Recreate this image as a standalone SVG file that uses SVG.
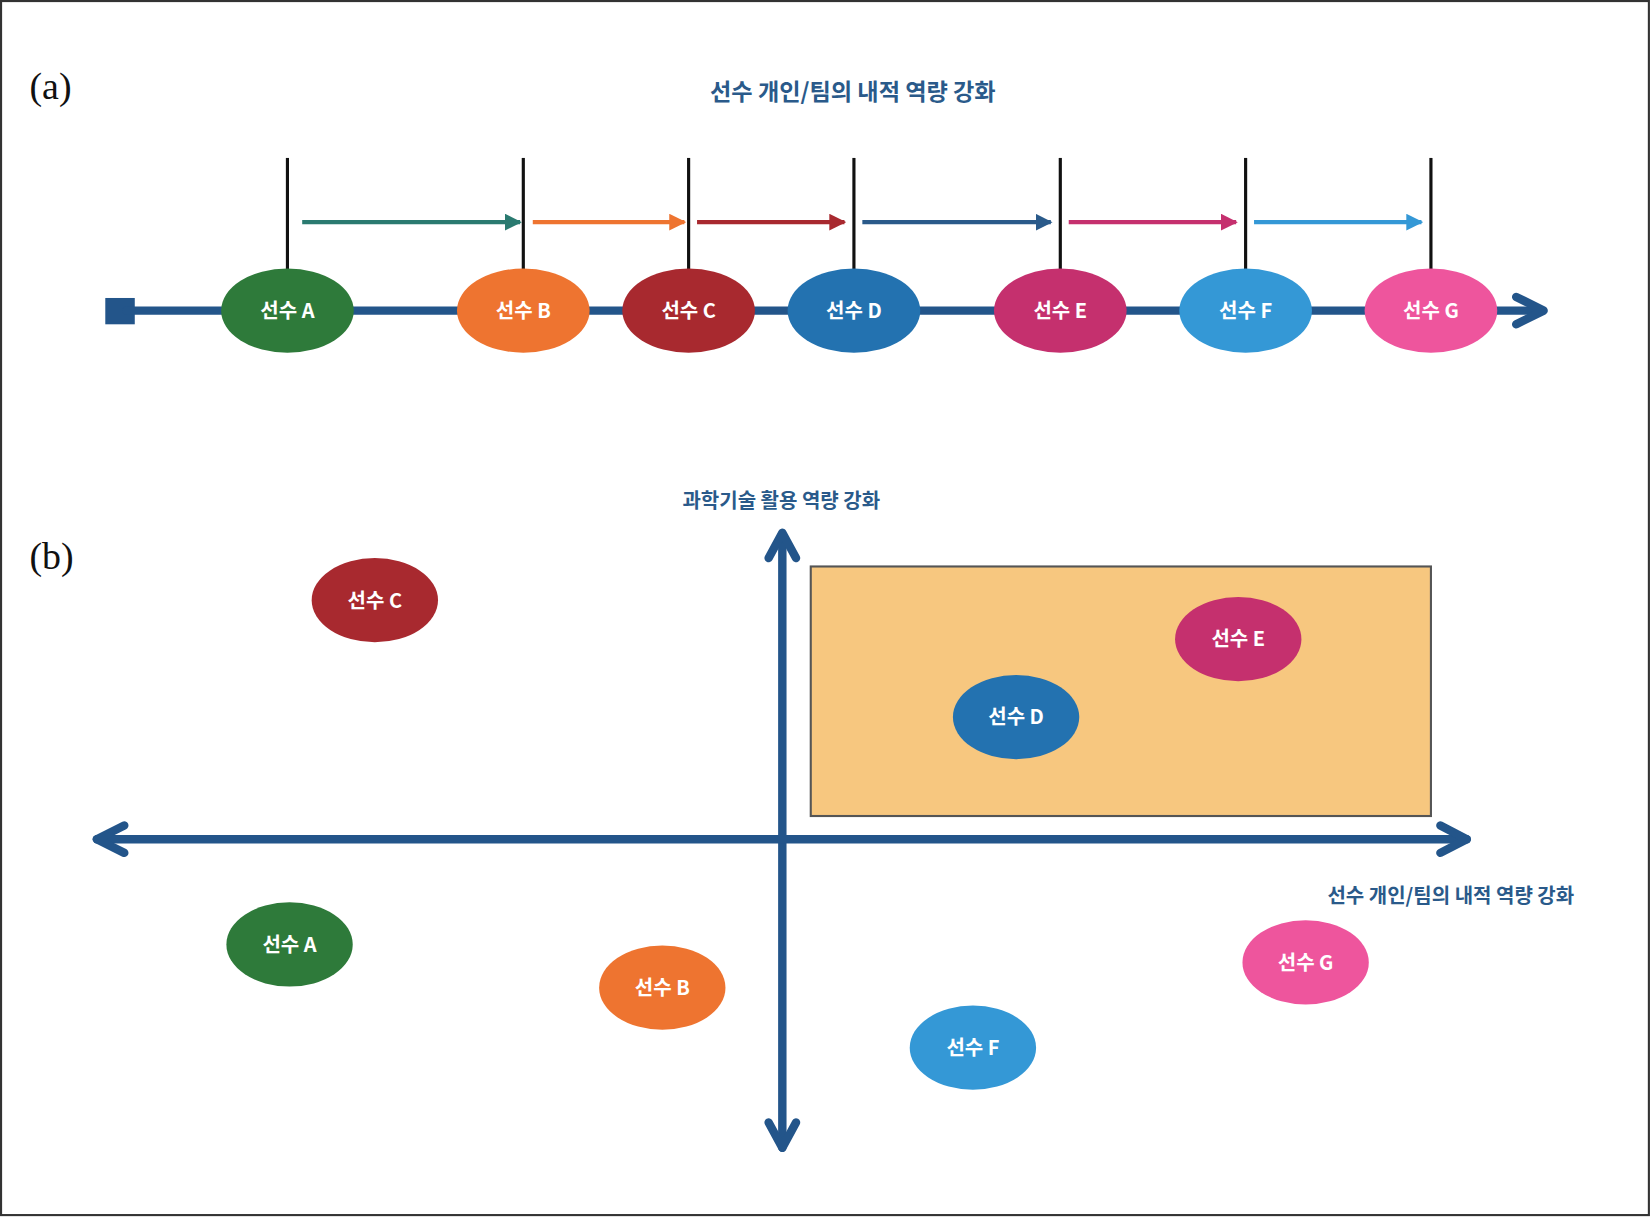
<svg xmlns="http://www.w3.org/2000/svg" width="1651" height="1217" viewBox="0 0 1651 1217">
<style>
.lbl{font-family:"Noto Sans CJK KR","Liberation Sans",sans-serif;font-size:19px;font-weight:bold;fill:#fff;text-anchor:middle}
.ttl{font-family:"Noto Sans CJK KR","Liberation Sans",sans-serif;font-weight:bold;fill:#2a5a8a}
.pl{font-family:"Liberation Serif",serif;font-size:36px;fill:#111}
.tk{stroke:#111;stroke-width:3}
.ax{stroke:#23558a;stroke-width:8;fill:none;stroke-linecap:round;stroke-linejoin:round}
</style>
<defs>
<marker id="ah" viewBox="0 0 10 10" refX="9" refY="5" markerWidth="4" markerHeight="4" orient="auto" markerUnits="strokeWidth"><path d="M0,0 L10,5 L0,10 z" fill="context-stroke"/></marker>
</defs>
<rect width="1651" height="1217" fill="#fff"/>
<g transform="scale(1.05293)">
<rect x="1" y="1" width="1565" height="1153" fill="none" stroke="#333" stroke-width="2"/>
<text class="pl" x="28" y="94">(a)</text>
<text class="pl" x="28" y="540">(b)</text>
<text class="ttl" x="810" y="95" font-size="22" text-anchor="middle">선수 개인/팀의 내적 역량 강화</text>
<g id="connectors">
<rect x="100" y="283" width="28" height="25" fill="#23558a"/>
<line x1="120" y1="295" x2="1462" y2="295" class="ax"/>
<path d="M1440,282 L1466,295 L1440,308" class="ax"/>
<g class="tk">
<line x1="273" y1="150" x2="273" y2="258"/><line x1="497" y1="150" x2="497" y2="258"/><line x1="654" y1="150" x2="654" y2="258"/><line x1="811" y1="150" x2="811" y2="258"/><line x1="1007" y1="150" x2="1007" y2="258"/><line x1="1183" y1="150" x2="1183" y2="258"/><line x1="1359" y1="150" x2="1359" y2="258"/>
</g>
<g stroke-width="4" marker-end="url(#ah)">
<line x1="287" y1="211" x2="494" y2="211" stroke="#2a7a70"/>
<line x1="506" y1="211" x2="650" y2="211" stroke="#ee7430"/>
<line x1="662" y1="211" x2="802" y2="211" stroke="#a8292f"/>
<line x1="819" y1="211" x2="998" y2="211" stroke="#2a5a8a"/>
<line x1="1015" y1="211" x2="1174" y2="211" stroke="#c5306e"/>
<line x1="1191" y1="211" x2="1350" y2="211" stroke="#3498d6"/>
</g>
<rect x="770" y="538" width="589" height="237" fill="#f7c77f" stroke="#555" stroke-width="2"/>
<line x1="743" y1="508" x2="743" y2="1090" class="ax"/>
<path d="M730,530 L743,506 L756,530 M730,1066 L743,1090 L756,1066" class="ax"/>
<line x1="92" y1="797" x2="1393" y2="797" class="ax"/>
<path d="M118,784 L92,797 L118,810 M1368,784 L1393,797 L1368,810" class="ax"/>
</g>
<text class="ttl" x="742" y="482" font-size="19" text-anchor="middle">과학기술 활용 역량 강화</text>
<text class="ttl" x="1495" y="858" font-size="19" text-anchor="end">선수 개인/팀의 내적 역량 강화</text>
<g id="a-A"><ellipse cx="273" cy="295" rx="63" ry="40" fill="#2e7a3a"/><text class="lbl" x="273" y="302">선수 A</text></g>
<g id="a-B"><ellipse cx="497" cy="295" rx="63" ry="40" fill="#ee7430"/><text class="lbl" x="497" y="302">선수 B</text></g>
<g id="a-C"><ellipse cx="654" cy="295" rx="63" ry="40" fill="#a8292f"/><text class="lbl" x="654" y="302">선수 C</text></g>
<g id="a-D"><ellipse cx="811" cy="295" rx="63" ry="40" fill="#2372b0"/><text class="lbl" x="811" y="302">선수 D</text></g>
<g id="a-E"><ellipse cx="1007" cy="295" rx="63" ry="40" fill="#c5306e"/><text class="lbl" x="1007" y="302">선수 E</text></g>
<g id="a-F"><ellipse cx="1183" cy="295" rx="63" ry="40" fill="#3498d6"/><text class="lbl" x="1183" y="302">선수 F</text></g>
<g id="a-G"><ellipse cx="1359" cy="295" rx="63" ry="40" fill="#ee559d"/><text class="lbl" x="1359" y="302">선수 G</text></g>
<g id="b-C"><ellipse cx="356" cy="570" rx="60" ry="40" fill="#a8292f"/><text class="lbl" x="356" y="577">선수 C</text></g>
<g id="b-E"><ellipse cx="1176" cy="607" rx="60" ry="40" fill="#c5306e"/><text class="lbl" x="1176" y="614">선수 E</text></g>
<g id="b-D"><ellipse cx="965" cy="681" rx="60" ry="40" fill="#2372b0"/><text class="lbl" x="965" y="688">선수 D</text></g>
<g id="b-A"><ellipse cx="275" cy="897" rx="60" ry="40" fill="#2e7a3a"/><text class="lbl" x="275" y="904">선수 A</text></g>
<g id="b-B"><ellipse cx="629" cy="938" rx="60" ry="40" fill="#ee7430"/><text class="lbl" x="629" y="945">선수 B</text></g>
<g id="b-F"><ellipse cx="924" cy="995" rx="60" ry="40" fill="#3498d6"/><text class="lbl" x="924" y="1002">선수 F</text></g>
<g id="b-G"><ellipse cx="1240" cy="914" rx="60" ry="40" fill="#ee559d"/><text class="lbl" x="1240" y="921">선수 G</text></g>
</g>
</svg>
